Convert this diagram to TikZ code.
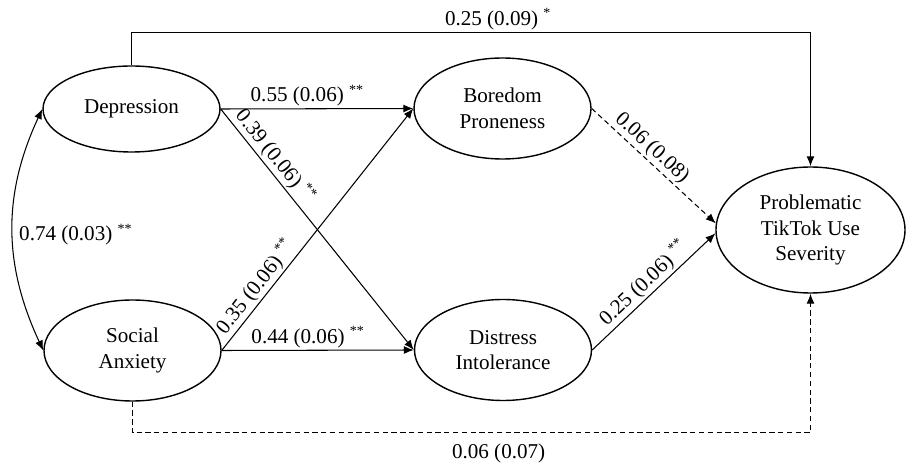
\documentclass[tikz,border=0pt]{standalone}
\usepackage{fontspec}
\setmainfont{Liberation Serif}
\usetikzlibrary{arrows.meta,shapes.geometric}

\begin{document}
\begin{tikzpicture}[
        font=\fontsize{12}{14.5}\selectfont,
        latent/.style={draw,ellipse,line width=0.8pt,inner sep=0pt,align=center,
            minimum width=3.54cm,minimum height=2.02cm},
        eff/.style={-{Latex[length=2mm,width=1.6mm]},line width=0.6pt},
        nseff/.style={eff,dash pattern=on 3pt off 2pt},
        est/.style={inner sep=1pt},
    ]
    \useasboundingbox (0,0) rectangle (18.12,9.32);
    % latent variables
    \node[latent,minimum height=1.72cm] (dep) at (2.63,7.14) {Depression};
    \node[latent] (soc) at (2.65,2.31) {Social\\Anxiety};
    \node[latent] (bor) at (10.05,7.15) {Boredom\\Proneness};
    \node[latent] (dis) at (10.06,2.32) {Distress\\Intolerance};
    \node[latent,minimum width=3.78cm,minimum height=2.52cm] (ptu) at (16.21,4.72)
        {Problematic\\TikTok Use\\Severity};
    % covariance
    \draw[{Latex[length=2mm,width=1.6mm]}-{Latex[length=2mm,width=1.6mm]},line width=0.6pt]
        (dep.west) to[out=245,in=115]
        node[pos=0.5,right,yshift=-0.1cm] {0.74 (0.03) \textsuperscript{**}} (soc.west);
    % paths
    \draw[eff] (dep.north) -- ++(0,0.66) -| node[est,pos=0.27,above] {0.25 (0.09) \textsuperscript{*}} (ptu.north);
    \draw[eff] (dep.east) -- node[est,pos=0.45,above] {0.55 (0.06) \textsuperscript{**}} (bor.west);
    \draw[eff] (dep.east) -- node[est,pos=0.23,above,sloped] {0.39 (0.06) \textsuperscript{**}} (dis.west);
    \draw[eff] (soc.east) -- node[est,pos=0.23,above,sloped] {0.35 (0.06) \textsuperscript{**}} (bor.west);
    \draw[eff] (soc.east) -- node[est,pos=0.45,above] {0.44 (0.06) \textsuperscript{**}} (dis.west);
    \draw[nseff] (bor.east) -- node[est,pos=0.42,above,sloped] {0.06 (0.08)} (ptu.176);
    \draw[eff] (dis.east) -- node[est,pos=0.49,above,sloped] {0.25 (0.06) \textsuperscript{**}} (ptu.182);
    \draw[nseff] (soc.south) -- ++(0,-0.62) -| node[pos=0.27,below=3pt] {0.06 (0.07)} (ptu.south);
\end{tikzpicture}
\end{document}
